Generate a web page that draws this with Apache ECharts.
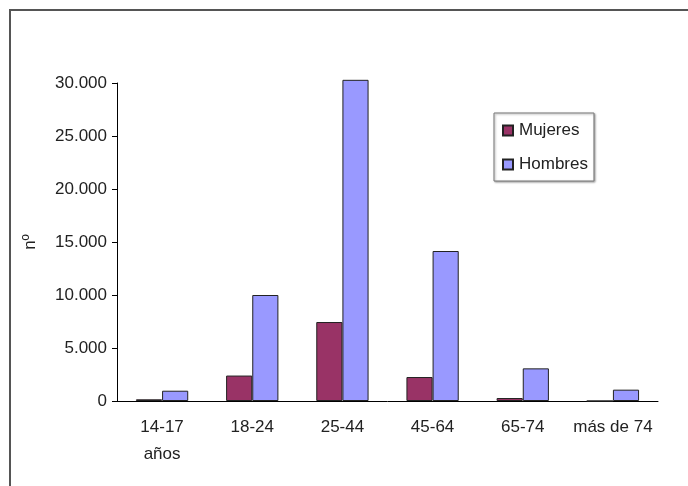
<!DOCTYPE html>
<html>
<head>
<meta charset="utf-8">
<script src="https://cdn.jsdelivr.net/npm/echarts@6/dist/echarts.min.js"></script>
<style>
  html, body { margin: 0; padding: 0; background: #fff; }
  #frame {
    position: absolute; left: 9px; top: 9px; width: 700px; height: 500px;
    border-left: 2px solid #555; border-top: 2px solid #555;
  }
  #chart { position: absolute; left: 0; top: 0; width: 688px; height: 486px; }
</style>
</head>
<body>
<div id="frame"></div>
<div id="chart"></div>
<script>
const categories = ['14-17\naños', '18-24', '25-44', '45-64', '65-74', 'más de 74']
const mujeres = [160, 2400, 7450, 2260, 280, 0]
const hombres = [970, 10000, 30300, 14150, 3080, 1070]

const myChart = echarts.init(document.getElementById('chart'))

// miles con punto
function fmt(v) {
  return String(v).replace(/\B(?=(\d{3})+(?!\d))/g, '.')
}

const option = {
  backgroundColor: 'transparent',
  textStyle: { fontFamily: 'Liberation Sans' },
  grid: { left: 117, right: 30, top: 83, bottom: 85 },
  legend: {
    orient: 'vertical',
    left: 494,
    top: 113,
    padding: [9, 6, 8, 8],
    itemGap: 17,
    itemWidth: 10,
    itemHeight: 10,
    icon: 'rect',
    backgroundColor: '#fff',
    borderColor: '#777',
    borderWidth: 1,
    shadowColor: 'rgba(0,0,0,0.35)',
    shadowOffsetX: 1,
    shadowOffsetY: 1,
    shadowBlur: 2,
    textStyle: { fontSize: 17, color: '#222', padding: [0, 0, 0, 1] },
    data: ['Mujeres', 'Hombres']
  },
  xAxis: {
    type: 'category',
    data: categories,
    axisLine: { lineStyle: { color: '#000', width: 1 } },
    axisTick: { length: 5, lineStyle: { color: '#000' } },
    axisLabel: { color: '#222', fontSize: 17, margin: 13, lineHeight: 27, interval: 0 }
  },
  yAxis: {
    type: 'value',
    min: 0,
    max: 30000,
    interval: 5000,
    name: 'nº',
    nameLocation: 'middle',
    nameGap: 78,
    nameTextStyle: { color: '#222', fontSize: 17 },
    splitLine: { show: false },
    axisLine: { show: true, lineStyle: { color: '#000' } },
    axisTick: { show: true, length: 5, lineStyle: { color: '#000' } },
    axisLabel: { color: '#222', fontSize: 17, margin: 10, formatter: fmt }
  },
  series: [
    {
      name: 'Mujeres',
      type: 'bar',
      data: mujeres,
      barGap: 0,
      barCategoryGap: '42%',
      clip: false,
      itemStyle: { color: '#993366', borderColor: '#222', borderWidth: 1 }
    },
    {
      name: 'Hombres',
      type: 'bar',
      data: hombres,
      barGap: 0,
      barCategoryGap: '42%',
      clip: false,
      itemStyle: { color: '#9999ff', borderColor: '#222', borderWidth: 1 }
    }
  ],
  animation: false
}
option && myChart.setOption(option)
</script>
</body>
</html>
